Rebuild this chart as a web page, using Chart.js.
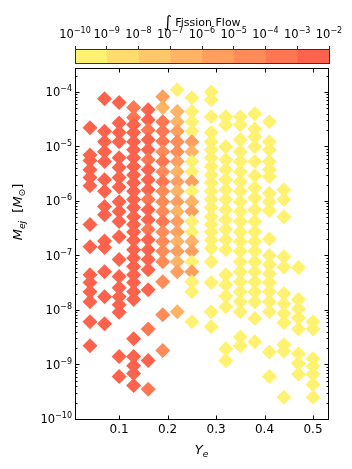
<!DOCTYPE html>
<html><head><meta charset="utf-8">
<script src="https://cdn.jsdelivr.net/npm/chart.js@4.4.0/dist/chart.umd.min.js"></script>
<style>
html,body{margin:0;padding:0;background:#fff;}
#wrap{position:relative;width:352px;height:469px;}
canvas{position:absolute;left:0;top:0;}
</style></head><body>
<div id="wrap"><canvas id="main" width="352" height="469"></canvas><canvas id="cb" width="352" height="68"></canvas></div>
<script>
// ---------- data ----------
const yeColumns = [0.04, 0.07, 0.10, 0.13, 0.16, 0.19, 0.22, 0.25, 0.29, 0.32, 0.35, 0.38, 0.41, 0.44, 0.47, 0.50];

const ejectaMass = [
  [2.2e-5, 7.0e-6, 5.5e-6, 3.75e-6, 2.7e-6, 1.9e-6, 3.7e-7, 1.45e-7, 4.45e-8, 3.2e-8, 2.17e-8, 1.42e-8, 6.1e-9, 2.2e-9],
  [7.5e-5, 1.9e-5, 1.22e-5, 8.0e-6, 5.3e-6, 2.46e-6, 1.5e-6, 7.9e-7, 5.6e-7, 1.85e-7, 1.4e-7, 5.05e-8, 1.75e-8, 5.6e-9],
  [6.4e-5, 2.7e-5, 1.8e-5, 1.22e-5, 6.2e-6, 4.1e-6, 2.7e-6, 1.8e-6, 9.7e-7, 6.4e-7, 4.2e-7, 2.2e-7, 8.4e-8, 4.1e-8, 2.56e-8, 1.75e-8, 1.25e-8, 9.1e-9, 1.4e-9, 6.0e-10],
  [5.2e-5, 3.4e-5, 2.5e-5, 1.8e-5, 1.22e-5, 8.7e-6, 6.2e-6, 4.3e-6, 3.0e-6, 2.15e-6, 1.5e-6, 1.06e-6, 7.6e-7, 5.15e-7, 3.7e-7, 2.7e-7, 1.9e-7, 1.28e-7, 9.0e-8, 6.3e-8, 4.45e-8, 3.2e-8, 2.17e-8, 1.55e-8, 2.98e-9, 1.4e-9, 9.5e-10, 6.8e-10, 4.1e-10],
  [4.7e-5, 3.1e-5, 2.0e-5, 1.33e-5, 8.7e-6, 5.7e-6, 3.75e-6, 2.46e-6, 1.6e-6, 1.06e-6, 6.9e-7, 4.5e-7, 3.0e-7, 1.95e-7, 1.28e-7, 8.4e-8, 5.5e-8, 2.36e-8, 4.5e-9, 1.18e-9, 3.5e-10],
  [8.2e-5, 5.2e-5, 2.85e-5, 1.9e-5, 1.25e-5, 8.0e-6, 5.3e-6, 3.45e-6, 2.26e-6, 1.5e-6, 9.7e-7, 6.4e-7, 4.2e-7, 2.7e-7, 1.8e-7, 1.2e-7, 7.7e-8, 3.3e-8, 8.2e-9, 1.8e-9],
  [1.1e-4, 4.4e-5, 2.85e-5, 1.9e-5, 1.22e-5, 8.0e-6, 5.3e-6, 3.45e-6, 2.26e-6, 1.5e-6, 9.7e-7, 6.4e-7, 4.2e-7, 2.7e-7, 1.8e-7, 1.2e-7, 7.7e-8, 5.05e-8, 9.3e-9],
  [7.8e-5, 4.4e-5, 2.85e-5, 1.9e-5, 1.22e-5, 8.0e-6, 5.3e-6, 3.45e-6, 2.26e-6, 1.5e-6, 9.7e-7, 6.4e-7, 4.2e-7, 2.7e-7, 1.8e-7, 1.2e-7, 7.7e-8, 5.05e-8, 3.3e-8, 2.17e-8, 6.1e-9],
  [1.0e-4, 7.2e-5, 3.5e-5, 1.8e-5, 1.22e-5, 8.7e-6, 6.2e-6, 4.3e-6, 3.0e-6, 2.15e-6, 1.5e-6, 1.06e-6, 7.6e-7, 5.15e-7, 3.7e-7, 2.7e-7, 1.9e-7, 1.35e-7, 7.7e-8, 3.2e-8, 9.3e-9, 4.9e-9],
  [3.5e-5, 2.5e-5, 9.9e-6, 5.7e-6, 3.75e-6, 2.46e-6, 1.6e-6, 1.06e-6, 6.9e-7, 4.5e-7, 3.0e-7, 1.95e-7, 1.28e-7, 4.45e-8, 2.9e-8, 1.8e-8, 1.15e-8, 1.95e-9, 1.18e-9],
  [3.5e-5, 2.5e-5, 1.33e-5, 8.0e-6, 5.3e-6, 3.45e-6, 2.26e-6, 1.5e-6, 9.7e-7, 6.4e-7, 4.2e-7, 2.7e-7, 1.8e-7, 1.2e-7, 7.7e-8, 5.05e-8, 3.3e-8, 2.17e-8, 1.42e-8, 9.3e-9, 3.2e-9, 2.2e-9],
  [4.0e-5, 2.1e-5, 1.5e-5, 9.9e-6, 5.3e-6, 2.9e-6, 1.75e-6, 1.15e-6, 6.9e-7, 4.2e-7, 2.7e-7, 1.8e-7, 1.2e-7, 7.7e-8, 5.05e-8, 3.3e-8, 2.17e-8, 1.42e-8, 7.0e-9, 2.6e-9],
  [2.85e-5, 1.22e-5, 8.7e-6, 5.3e-6, 3.75e-6, 2.8e-6, 1.38e-6, 9.7e-7, 6.7e-7, 2.0e-7, 1.0e-7, 6.8e-8, 4.6e-8, 3.2e-8, 2.17e-8, 1.42e-8, 9.3e-9, 1.7e-9, 6.0e-10],
  [1.6e-6, 1.06e-6, 5.15e-7, 9.5e-8, 6.1e-8, 2.0e-8, 1.3e-8, 8.6e-9, 5.9e-9, 2.3e-9, 1.75e-9, 2.5e-10],
  [6.0e-8, 1.55e-8, 1.05e-8, 7.2e-9, 4.5e-9, 1.58e-9, 1.04e-9, 6.6e-10],
  [6.1e-9, 4.5e-9, 1.28e-9, 9.3e-10, 6.6e-10, 4.3e-10, 2.5e-10]
];

const fissionFlow = [
  [3e-3,3e-3,3e-3,3e-3,3e-3,3e-3,3e-3,3e-3,3e-3,3e-3,3e-3,3e-3,3e-3,3e-3],
  [3e-3,3e-3,3e-3,3e-3,3e-3,3e-3,3e-3,3e-3,3e-3,3e-3,3e-3,3e-3,3e-3,3e-3],
  [3e-3,3e-3,3e-3,3e-3,3e-3,3e-3,3e-3,3e-3,3e-3,3e-3,3e-3,3e-3,3e-3,3e-3,3e-3,3e-3,3e-3,3e-3,3e-3,3e-3],
  [3e-4,3e-4,3e-3,3e-3,3e-3,3e-3,3e-3,3e-3,3e-3,3e-3,3e-3,3e-3,3e-3,3e-3,3e-3,3e-3,3e-3,3e-3,3e-3,3e-3,3e-3,3e-3,3e-3,3e-3,3e-3,3e-3,3e-3,3e-3,3e-3],
  [3e-3,3e-3,3e-4,3e-3,3e-3,3e-4,3e-3,3e-3,3e-3,3e-4,3e-3,3e-3,3e-4,3e-3,3e-3,3e-3,3e-3,3e-3,3e-4,3e-3,3e-4],
  [3e-6,3e-7,3e-4,3e-4,3e-4,3e-5,3e-4,3e-5,3e-4,3e-5,3e-5,3e-5,3e-4,3e-5,3e-5,3e-5,3e-5,3e-5,3e-5,3e-5],
  [3e-10,3e-7,3e-7,3e-6,3e-5,3e-5,3e-6,3e-7,3e-6,3e-7,3e-6,3e-7,3e-6,3e-6,3e-7,3e-6,3e-7,3e-6,3e-7],
  [3e-10,3e-10,3e-10,3e-10,3e-6,3e-7,3e-10,3e-10,3e-6,3e-10,3e-7,3e-6,3e-10,3e-10,3e-7,3e-6,3e-10,3e-6,3e-10,3e-10,3e-10],
  [3e-10,3e-10,3e-10,3e-10,3e-10,3e-10,3e-10,3e-10,3e-10,3e-10,3e-10,3e-10,3e-10,3e-10,3e-10,3e-10,3e-10,3e-10,3e-10,3e-10,3e-10,3e-10],
  [3e-10,3e-10,3e-10,3e-10,3e-10,3e-10,3e-10,3e-10,3e-10,3e-10,3e-10,3e-10,3e-10,3e-10,3e-10,3e-10,3e-10,3e-10,3e-10],
  [3e-10,3e-10,3e-10,3e-10,3e-10,3e-10,3e-10,3e-10,3e-10,3e-10,3e-10,3e-10,3e-10,3e-10,3e-10,3e-10,3e-10,3e-10,3e-10,3e-10,3e-10,3e-10],
  [3e-10,3e-10,3e-10,3e-10,3e-10,3e-10,3e-10,3e-10,3e-10,3e-10,3e-10,3e-10,3e-10,3e-10,3e-10,3e-10,3e-10,3e-10,3e-10,3e-10],
  [3e-10,3e-10,3e-10,3e-10,3e-10,3e-10,3e-10,3e-10,3e-10,3e-10,3e-10,3e-10,3e-10,3e-10,3e-10,3e-10,3e-10,3e-10,3e-10],
  [3e-10,3e-10,3e-10,3e-10,3e-10,3e-10,3e-10,3e-10,3e-10,3e-10,3e-10,3e-10],
  [3e-10,3e-10,3e-10,3e-10,3e-10,3e-10,3e-10,3e-10],
  [3e-10,3e-10,3e-10,3e-10,3e-10,3e-10,3e-10]
];

const xTickValues = [0.1, 0.2, 0.3, 0.4, 0.5];
const yTickValues = [1e-10, 1e-9, 1e-8, 1e-7, 1e-6, 1e-5, 1e-4];
const cbTickValues = [1e-10, 1e-9, 1e-8, 1e-7, 1e-6, 1e-5, 1e-4, 1e-3, 1e-2];
const cbColors = ['#fef270', '#fedc6d', '#fec86a', '#feb464', '#fe9f5e', '#fe8b58', '#fe7752', '#fd634c'];

// ---------- helpers ----------
const FONT = '"DejaVu Sans", sans-serif';
const BASE = 11.5, SUPS = 8;
function flowColor(f) {
  let i = Math.floor(Math.log10(f) - Math.log10(cbTickValues[0]));
  i = Math.max(0, Math.min(cbColors.length - 1, i));
  return cbColors[i];
}
const points = [], pointColors = [];
yeColumns.forEach((ye, i) => ejectaMass[i].forEach((m, j) => {
  points.push({x: ye, y: m});
  pointColors.push(flowColor(fissionFlow[i][j]));
}));

function measureParts(ctx, parts) {
  let total = 0;
  parts.forEach(p => {
    ctx.font = (p.it ? 'italic ' : '') + p.s + 'px ' + FONT;
    p.w = ctx.measureText(p.t).width;
    total += p.w;
  });
  return total;
}
// align: 'center' | 'right'
function drawRich(ctx, parts, x0, y0, rot, align) {
  ctx.save();
  ctx.translate(x0, y0);
  ctx.rotate(rot || 0);
  const total = measureParts(ctx, parts);
  let x = align === 'right' ? -total : -total / 2;
  ctx.fillStyle = '#000';
  ctx.textBaseline = 'alphabetic';
  ctx.textAlign = 'left';
  parts.forEach(p => {
    ctx.font = (p.it ? 'italic ' : '') + p.s + 'px ' + FONT;
    ctx.fillText(p.t, x, p.dy || 0);
    x += p.w;
  });
  ctx.restore();
}
function powParts(v) {
  const e = Math.round(Math.log10(v));
  return [
    {t: '10', s: BASE},
    {t: String(e).replace('-', '\u2212'), s: SUPS, dy: -5}
  ];
}

const px = v => Math.round(v) + 0.5;

const framePlugin = {
  id: 'frame',
  afterDatasetsDraw(chart) {
    const {ctx, chartArea: a, scales: {x, y}} = chart;
    ctx.save();
    ctx.strokeStyle = '#000';
    ctx.lineWidth = 1;
    ctx.beginPath();
    const L = px(a.left), R = px(a.right), T = px(a.top), B = px(a.bottom);
    xTickValues.forEach(v => {
      const p = px(x.getPixelForValue(v));
      ctx.moveTo(p, B); ctx.lineTo(p, B - 4);
      ctx.moveTo(p, T); ctx.lineTo(p, T + 4);
    });
    yTickValues.forEach(v => {
      const p = px(y.getPixelForValue(v));
      ctx.moveTo(L, p); ctx.lineTo(L + 4, p);
      ctx.moveTo(R, p); ctx.lineTo(R - 4, p);
      for (let m = 2; m <= 9; m++) {
        const mv = m * v;
        if (mv > y.max) break;
        const q = px(y.getPixelForValue(mv));
        ctx.moveTo(L, q); ctx.lineTo(L + 2, q);
        ctx.moveTo(R, q); ctx.lineTo(R - 2, q);
      }
    });
    ctx.stroke();
    ctx.strokeRect(L, T, R - L, B - T);
    ctx.restore();
  },
  afterDraw(chart) {
    const {ctx, chartArea: a, scales: {y}} = chart;
    // y tick labels (10^n)
    yTickValues.forEach(v => {
      drawRich(ctx, powParts(v), a.left - 3, y.getPixelForValue(v) + 4.2, 0, 'right');
    });
    const S = 13;
    drawRich(ctx, [
      {t: 'Y', it: true, s: S},
      {t: 'e', it: true, s: S * 0.7, dy: S * 0.22}
    ], (a.left + a.right) / 2, 454, 0);
    drawRich(ctx, [
      {t: 'M', it: true, s: S},
      {t: 'ej', it: true, s: S * 0.7, dy: S * 0.22},
      {t: '  [', s: S},
      {t: 'M', it: true, s: S},
      {t: '⊙', s: S * 0.7, dy: S * 0.22},
      {t: ']', s: S}
    ], 22, 212, -Math.PI / 2);
  }
};

new Chart(document.getElementById('main'), {
  type: 'scatter',
  data: {
    datasets: [{
      data: points,
      pointStyle: 'rectRot',
      pointRadius: 7.5,
      pointHoverRadius: 7.5,
      backgroundColor: pointColors,
      borderWidth: 0,
      pointBorderWidth: 0
    }]
  },
  options: {
    responsive: false,
    animation: false,
    events: [],
    layout: {padding: {top: 68, right: 24, left: 0, bottom: 0}},
    plugins: {legend: {display: false}, tooltip: {enabled: false}},
    scales: {
      x: {
        type: 'linear', min: 0.009, max: 0.531,
        afterBuildTicks: s => { s.ticks = xTickValues.map(v => ({value: v})); },
        afterFit: s => { s.height = 50; },
        ticks: {callback: v => v.toFixed(1), color: '#000', font: {family: FONT, size: 12}, padding: 4, maxRotation: 0, autoSkip: false},
        grid: {display: false, drawTicks: false},
        border: {display: false}
      },
      y: {
        type: 'logarithmic', min: 1e-10, max: 2.75e-4,
        afterBuildTicks: s => { s.ticks = yTickValues.map(v => ({value: v})); },
        afterFit: s => { s.width = 75; },
        ticks: {display: false},
        grid: {display: false, drawTicks: false},
        border: {display: false}
      }
    }
  },
  plugins: [framePlugin]
});

// ---------- colorbar ----------
const cbPlugin = {
  id: 'cbframe',
  afterDatasetsDraw(chart) {
    const {ctx, chartArea: a} = chart;
    ctx.save();
    ctx.strokeStyle = '#333';
    ctx.lineWidth = 1;
    ctx.strokeRect(px(a.left), px(a.top), Math.round(a.right) - Math.round(a.left), Math.round(a.bottom) - Math.round(a.top));
    ctx.restore();
  },
  afterDraw(chart) {
    const {ctx, chartArea: a, scales: {x}} = chart;
    cbTickValues.forEach(v => {
      drawRich(ctx, powParts(v), x.getPixelForValue(v), 38, 0, 'center');
    });
    drawRich(ctx, [
      {t: '∫', s: 16, dy: 1},
      {t: ' Fission Flow', s: 11}
    ], (a.left + a.right) / 2, 26, 0, 'center');
  }
};

new Chart(document.getElementById('cb'), {
  type: 'bar',
  data: {
    labels: ['flow'],
    datasets: cbColors.map((c, i) => ({
      data: [[cbTickValues[i], cbTickValues[i + 1]]],
      backgroundColor: c,
      borderWidth: 0,
      grouped: false,
      barPercentage: 1,
      categoryPercentage: 1
    }))
  },
  options: {
    indexAxis: 'y',
    responsive: false,
    animation: false,
    events: [],
    layout: {padding: {left: 75, right: 23, top: 0, bottom: 5}},
    plugins: {legend: {display: false}, tooltip: {enabled: false}},
    scales: {
      x: {
        type: 'logarithmic', position: 'top', min: 1e-10, max: 1e-2,
        afterBuildTicks: s => { s.ticks = cbTickValues.map(v => ({value: v})); },
        afterFit: s => { s.height = 49; },
        ticks: {display: false},
        grid: {display: true, drawOnChartArea: false, drawTicks: true, tickLength: 3, color: '#333', lineWidth: 1},
        border: {display: false}
      },
      y: {display: false}
    }
  },
  plugins: [cbPlugin]
});
</script>
</body></html>
